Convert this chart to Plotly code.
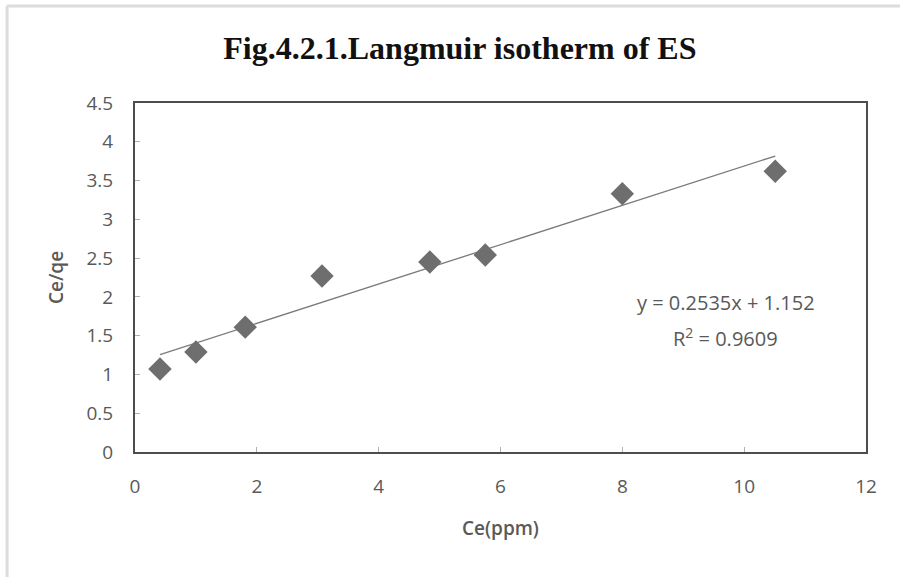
import plotly.graph_objects as go

# Langmuir isotherm data for ES
ce_ppm = [0.41, 1.0, 1.81, 3.07, 4.84, 5.75, 8.0, 10.51]
ce_over_qe = [1.07, 1.29, 1.61, 2.27, 2.45, 2.54, 3.33, 3.62]

# Linear trendline reported on the chart
slope = 0.2535
intercept = 1.152
r_squared = 0.9609

x_ticks = [0, 2, 4, 6, 8, 10, 12]
y_ticks = [0, 0.5, 1, 1.5, 2, 2.5, 3, 3.5, 4, 4.5]

fit_x = [min(ce_ppm), max(ce_ppm)]
fit_y = [slope * v + intercept for v in fit_x]

SANS = "Open Sans, Lato, sans-serif"
GRAY = "#595959"
tick_font = dict(family=SANS, size=19, color=GRAY)
axis_title_font = dict(family=SANS, size=19, color=GRAY, weight=600)
eq_font = dict(family=SANS, size=20, color=GRAY)

fig = go.Figure()
fig.add_trace(go.Scatter(
    x=fit_x, y=fit_y, mode="lines",
    line=dict(color="#7a7a7a", width=1.3),
    hoverinfo="skip", showlegend=False,
))
fig.add_trace(go.Scatter(
    x=ce_ppm, y=ce_over_qe, mode="markers",
    marker=dict(symbol="diamond", size=18, color="#6e6e6e"),
    showlegend=False,
))

fig.update_layout(
    width=900, height=577,
    margin=dict(l=135, r=34, t=103, b=125),
    paper_bgcolor="white", plot_bgcolor="white",
    title=dict(
        text="<b>Fig.4.2.1.Langmuir isotherm of ES</b>",
        font=dict(family="Liberation Serif, Times New Roman, serif", size=32, color="#111111"),
        x=0.511, xanchor="center", y=0.917, yanchor="middle",
    ),
    xaxis=dict(
        range=[0, 12], tickvals=x_ticks, ticktext=[str(v) for v in x_ticks],
        showgrid=False, zeroline=False,
        showline=True, linecolor="#4d4d4d", linewidth=2, mirror=True,
        ticks="inside", ticklen=5, tickcolor="#b0b0b0", tickwidth=1,
        tickfont=tick_font, ticklabelstandoff=16,
        title=dict(text="Ce(ppm)", font=axis_title_font, standoff=24),
    ),
    yaxis=dict(
        range=[0, 4.5], tickvals=y_ticks, ticktext=[f"{v:g}" for v in y_ticks],
        showgrid=False, zeroline=False,
        showline=True, linecolor="#4d4d4d", linewidth=2, mirror=True,
        ticks="inside", ticklen=5, tickcolor="#b0b0b0", tickwidth=1,
        tickfont=tick_font, ticklabelstandoff=16,
        title=dict(text="Ce/qe", font=axis_title_font, standoff=18),
    ),
    annotations=[
        dict(xref="x", yref="y", x=9.7, y=1.93, showarrow=False,
             text=f"y = {slope}x + {intercept}", font=eq_font),
        dict(xref="x", yref="y", x=9.7, y=1.48, showarrow=False,
             text=f"R<sup>2</sup> = {r_squared}", font=eq_font),
    ],
    shapes=[
        # light outer chart border along the left and top edges
        dict(type="line", xref="paper", yref="paper", x0=-0.175, x1=-0.175, y0=-0.4, y1=1.278,
             line=dict(color="#dcdcdc", width=3)),
        dict(type="line", xref="paper", yref="paper", x0=-0.175, x1=1.1, y0=1.278, y1=1.278,
             line=dict(color="#dcdcdc", width=3)),
    ],
)

fig.write_html("out.html")
